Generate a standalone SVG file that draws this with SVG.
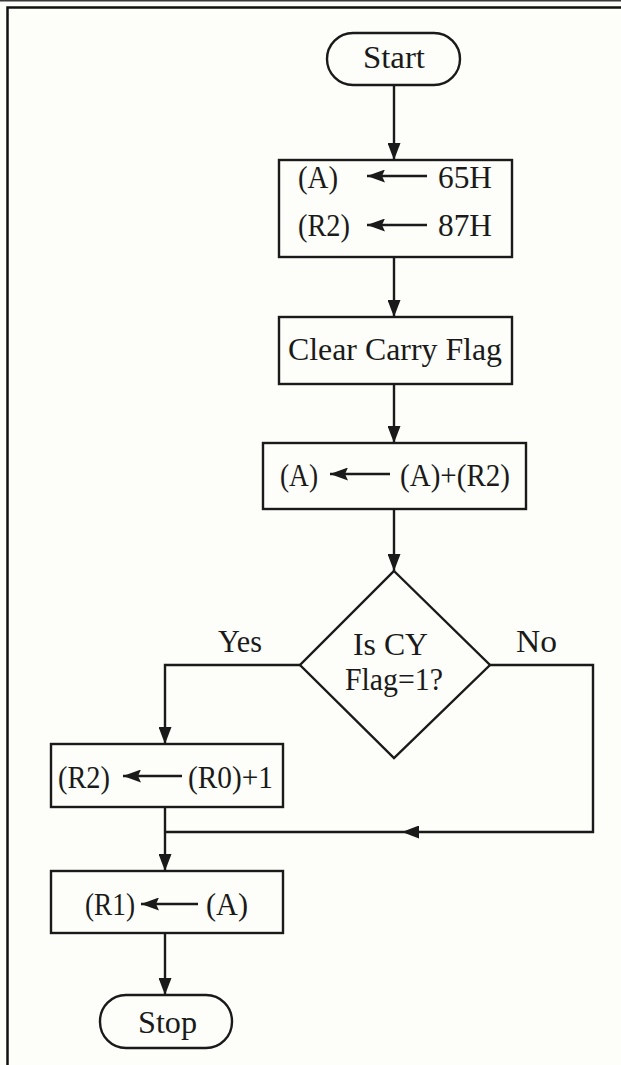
<svg xmlns="http://www.w3.org/2000/svg" width="621" height="1065" viewBox="0 0 621 1065">
  <defs>
    <style>
      .bg { fill: #fdfdf9; }
      .frame { fill: none; stroke: #111; stroke-width: 2.5; }
      .shape { fill: none; stroke: #1a1a1a; stroke-width: 2.4; }
      .wire { fill: none; stroke: #1a1a1a; stroke-width: 2.4; }
      .t { font-family: "Liberation Serif", "Times New Roman", serif; font-size: 31px; fill: #1a1a1a; }
      .inarrow { stroke: #1a1a1a; stroke-width: 2.4; }
    </style>
    <marker id="head" markerUnits="userSpaceOnUse" markerWidth="17" markerHeight="13" refX="17" refY="6.5" viewBox="0 0 17 13" orient="auto">
      <path d="M0,0 L17,6.5 L0,13 Z" fill="#1a1a1a"/>
    </marker>
    <marker id="small" markerUnits="userSpaceOnUse" markerWidth="18" markerHeight="13" refX="18" refY="6.5" viewBox="0 0 18 13" orient="auto">
      <path d="M0,0 L18,6.5 L0,13 L3,6.5 Z" fill="#1a1a1a"/>
    </marker>
  </defs>

  <rect class="bg" x="0" y="0" width="621" height="1065"/>
  <!-- page rules -->
  <rect x="0" y="0" width="621" height="1.5" fill="#3a3a3a"/>
  <path class="frame" d="M7.5,1065 V7.5 H621"/>

  <!-- connectors -->
  <g id="connectors">
    <path class="wire" d="M394,85 V160" marker-end="url(#head)"/>
    <path class="wire" d="M394,257 V317" marker-end="url(#head)"/>
    <path class="wire" d="M394,384 V443" marker-end="url(#head)"/>
    <path class="wire" d="M394,509 V571" marker-end="url(#head)"/>
    <path class="wire" d="M300,665 H165 V744" marker-end="url(#head)"/>
    <path class="wire" d="M490,665 H593 V832 H402" marker-end="url(#head)"/>
    <path class="wire" d="M402,832 H165"/>
    <path class="wire" d="M165,807 V871" marker-end="url(#head)"/>
    <path class="wire" d="M165,933 V995" marker-end="url(#head)"/>
    <text class="t" x="218" y="652" textLength="44" lengthAdjust="spacingAndGlyphs">Yes</text>
    <text class="t" x="516" y="652" textLength="41" lengthAdjust="spacingAndGlyphs">No</text>
  </g>

  <g id="start">
    <rect class="shape" x="327" y="33" width="133" height="52" rx="26"/>
    <text class="t" x="363" y="68" textLength="62" lengthAdjust="spacingAndGlyphs">Start</text>
  </g>

  <g id="load">
    <rect class="shape" x="279" y="160" width="233" height="97"/>
    <text class="t" x="298" y="188" textLength="40" lengthAdjust="spacingAndGlyphs">(A)</text>
    <line class="inarrow" x1="427" y1="176" x2="367" y2="176" marker-end="url(#small)"/>
    <text class="t" x="438" y="188" textLength="54" lengthAdjust="spacingAndGlyphs">65H</text>
    <text class="t" x="298" y="236" textLength="52" lengthAdjust="spacingAndGlyphs">(R2)</text>
    <line class="inarrow" x1="427" y1="225" x2="367" y2="225" marker-end="url(#small)"/>
    <text class="t" x="438" y="236" textLength="54" lengthAdjust="spacingAndGlyphs">87H</text>
  </g>

  <g id="clear">
    <rect class="shape" x="279" y="317" width="233" height="67"/>
    <text class="t" x="288" y="360" textLength="214" lengthAdjust="spacingAndGlyphs">Clear Carry Flag</text>
  </g>

  <g id="add">
    <rect class="shape" x="263" y="443" width="263" height="66"/>
    <text class="t" x="280" y="486" textLength="38" lengthAdjust="spacingAndGlyphs">(A)</text>
    <line class="inarrow" x1="390" y1="474" x2="330" y2="474" marker-end="url(#small)"/>
    <text class="t" x="400" y="486" textLength="110" lengthAdjust="spacingAndGlyphs">(A)+(R2)</text>
  </g>

  <g id="decision">
    <polygon class="shape" points="394,571 490,665 394,758 300,665"/>
    <text class="t" x="353" y="655" textLength="75" lengthAdjust="spacingAndGlyphs">Is CY</text>
    <text class="t" x="345" y="690" textLength="98" lengthAdjust="spacingAndGlyphs">Flag=1?</text>
  </g>

  <g id="inc">
    <rect class="shape" x="51" y="744" width="232" height="63"/>
    <text class="t" x="58" y="788" textLength="52" lengthAdjust="spacingAndGlyphs">(R2)</text>
    <line class="inarrow" x1="182" y1="776" x2="123" y2="776" marker-end="url(#small)"/>
    <text class="t" x="188" y="788" textLength="85" lengthAdjust="spacingAndGlyphs">(R0)+1</text>
  </g>

  <g id="store">
    <rect class="shape" x="51" y="871" width="232" height="62"/>
    <text class="t" x="85" y="915" textLength="50" lengthAdjust="spacingAndGlyphs">(R1)</text>
    <line class="inarrow" x1="198" y1="904" x2="141" y2="904" marker-end="url(#small)"/>
    <text class="t" x="206" y="915" textLength="42" lengthAdjust="spacingAndGlyphs">(A)</text>
  </g>

  <g id="stop">
    <rect class="shape" x="100" y="995" width="132" height="53" rx="26"/>
    <text class="t" x="138" y="1033" textLength="59" lengthAdjust="spacingAndGlyphs">Stop</text>
  </g>
</svg>
